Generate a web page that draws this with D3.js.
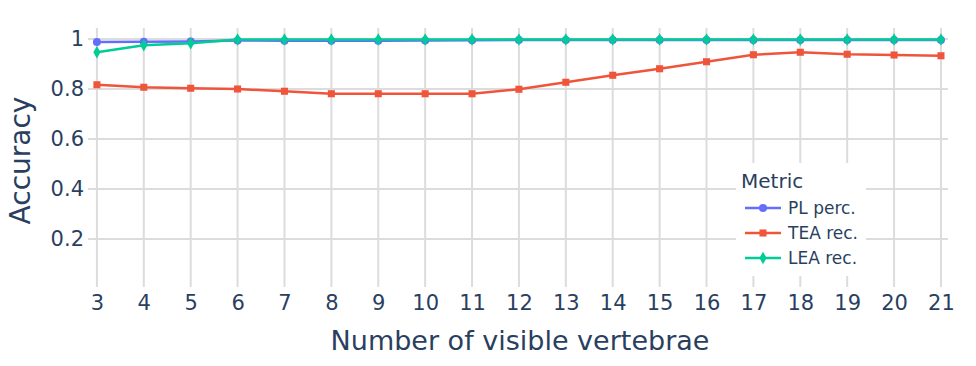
<!DOCTYPE html>
<html>
<head>
<meta charset="utf-8">
<script src="https://cdn.jsdelivr.net/npm/d3@7.9.0/dist/d3.min.js"></script>
<style>
  body { margin: 0; background: #fff; }
  svg { display: block; font-family: "DejaVu Sans", sans-serif; }
</style>
</head>
<body>
<svg id="chart" width="976" height="366"></svg>
<script>
const vertebrae = d3.range(3, 22);
const plPerc = [0.988, 0.989, 0.990, 0.994, 0.993, 0.993, 0.993, 0.994, 0.995, 0.996, 0.996, 0.996, 0.996, 0.996, 0.996, 0.996, 0.996, 0.996, 0.996];
const teaRec = [0.817, 0.807, 0.803, 0.800, 0.791, 0.781, 0.781, 0.781, 0.781, 0.799, 0.827, 0.855, 0.881, 0.909, 0.937, 0.947, 0.939, 0.936, 0.933];
const leaRec = [0.947, 0.975, 0.983, 0.998, 0.998, 0.998, 0.998, 0.998, 0.998, 0.998, 0.998, 0.998, 0.998, 0.998, 0.998, 0.998, 0.998, 0.998, 0.998];
const yTicks = [0.2, 0.4, 0.6, 0.8, 1];

const series = [
  { name: 'PL perc.', values: plPerc, color: '#636efa', symbol: d3.symbolCircle },
  { name: 'TEA rec.', values: teaRec, color: '#EF553B', symbol: d3.symbolSquare },
  { name: 'LEA rec.', values: leaRec, color: '#00cc96', symbol: d3.symbolDiamond },
];

const textColor = '#2a3f5f';
const gridColor = '#dcdcdc';
const margin = { top: 28, right: 28, bottom: 79, left: 88 };
const width = 976, height = 366;

const svg = d3.select('#chart');
const x = d3.scaleLinear().domain([2.81, 21.15]).range([margin.left, width - margin.right]);
const y = d3.scaleLinear().domain([0.008, 1.044]).range([height - margin.bottom, margin.top]);

// grid
svg.append('g')
  .selectAll('line')
  .data(vertebrae)
  .join('line')
  .attr('x1', (d) => x(d)).attr('x2', (d) => x(d))
  .attr('y1', margin.top).attr('y2', height - margin.bottom)
  .attr('stroke', gridColor).attr('stroke-width', 2);

svg.append('g')
  .selectAll('line')
  .data(yTicks)
  .join('line')
  .attr('x1', margin.left).attr('x2', width - margin.right)
  .attr('y1', (d) => y(d)).attr('y2', (d) => y(d))
  .attr('stroke', gridColor).attr('stroke-width', 2);

// axes labels
let xAxis = svg.append('g')
  .attr('transform', `translate(0,${height - margin.bottom})`)
  .call(d3.axisBottom(x).tickValues(vertebrae).tickFormat(d3.format('d')).tickSize(0).tickPadding(8));
xAxis.select('.domain').remove();
xAxis.selectAll('text').attr('fill', textColor).attr('font-size', 21).attr('font-family', 'DejaVu Sans');

let yAxis = svg.append('g')
  .attr('transform', `translate(${margin.left},0)`)
  .call(d3.axisLeft(y).tickValues(yTicks).tickFormat((d) => d === 1 ? '1' : d3.format('.1f')(d)).tickSize(0).tickPadding(4));
yAxis.select('.domain').remove();
yAxis.selectAll('text').attr('fill', textColor).attr('font-size', 21).attr('font-family', 'DejaVu Sans');

svg.append('text')
  .attr('x', (margin.left + width - margin.right) / 2 + 2).attr('y', 350)
  .attr('text-anchor', 'middle').attr('fill', textColor).attr('font-size', 27)
  .text('Number of visible vertebrae');

svg.append('text')
  .attr('transform', `translate(30,${(margin.top + height - margin.bottom) / 2 + 3}) rotate(-90)`)
  .attr('text-anchor', 'middle').attr('fill', textColor).attr('font-size', 28)
  .text('Accuracy');

// lines + markers
let line = d3.line().x((d, i) => x(vertebrae[i])).y((d) => y(d));

series.forEach((s) => {
  let g = svg.append('g');
  g.append('path')
    .attr('d', line(s.values))
    .attr('fill', 'none').attr('stroke', s.color).attr('stroke-width', 2.5);
  g.selectAll('path.pt')
    .data(s.values)
    .join('path')
    .attr('class', 'pt')
    .attr('transform', (d, i) => `translate(${x(vertebrae[i])},${y(d)})`)
    .attr('d', d3.symbol().type(s.symbol).size(s.symbol === d3.symbolDiamond ? 45 : 50))
    .attr('fill', s.color);
});

// legend
let legend = svg.append('g').attr('transform', 'translate(736,163)');
legend.append('rect').attr('width', 130).attr('height', 113).attr('fill', '#fff');
legend.append('text').attr('x', 5).attr('y', 25).attr('fill', textColor).attr('font-size', 20).text('Metric');
series.forEach((s, i) => {
  let row = legend.append('g').attr('transform', `translate(0,${45 + i * 25})`);
  row.append('line').attr('x1', 9).attr('x2', 45).attr('stroke', s.color).attr('stroke-width', 2.5);
  row.append('path').attr('transform', 'translate(27,0)')
    .attr('d', d3.symbol().type(s.symbol).size(s.symbol === d3.symbolDiamond ? 45 : 50))
    .attr('fill', s.color);
  row.append('text').attr('x', 52).attr('y', 6).attr('fill', textColor).attr('font-size', 17).text(s.name);
});
</script>
</body>
</html>
